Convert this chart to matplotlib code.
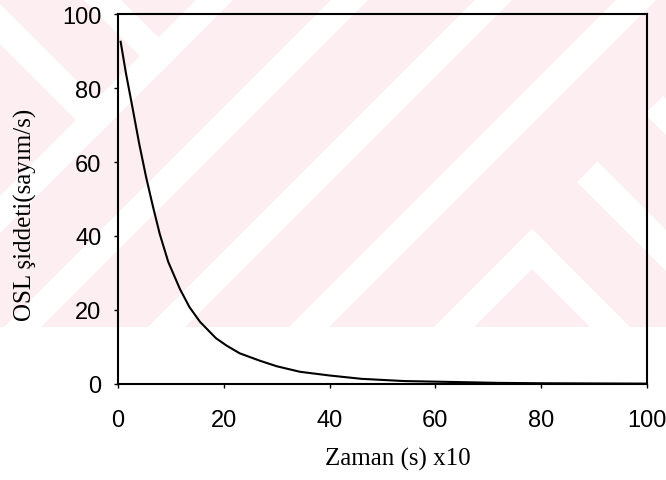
#!/usr/bin/env python3
"""
OSL decay curve: intensity (counts/s) against stimulation time.
Writes out.png.
"""

import matplotlib.pyplot as plt
from matplotlib.patches import Polygon, Rectangle

# time axis is in units of 10 s
ZAMAN = [0.5, 1.5, 2.7, 4.0, 5.3, 6.6, 7.9, 9.5, 11.7, 13.5, 15.5, 18.5,
         20.5, 23.0, 26.8, 30.0, 34.4, 40.0, 46.0, 54.0, 65.0, 72.0, 80.0,
         90.0, 100.0]
OSL = [92.5, 84.0, 75.0, 65.0, 56.0, 48.0, 40.5, 33.0, 25.7, 20.8, 16.8,
       12.4, 10.4, 8.3, 6.3, 4.8, 3.3, 2.3, 1.4, 0.8, 0.5, 0.3, 0.2,
       0.15, 0.1]

X_TICKS = [0, 20, 40, 60, 80, 100]
Y_TICKS = [0, 20, 40, 60, 80, 100]

PINK = "#fdeef1"
W, H = 666, 481
BAND_H = 328


def slash_band(a, b):
    """White '/' stripe where a <= x + y <= b (pixel coords, y down)."""
    return [(a, 0), (b, 0), (b - 800, 800), (a - 800, 800)]


def back_band_to(c, d, e):
    """'\\' stripe c <= x - y <= d, ending on the line x + y = e."""
    return [(c - 200, -200), (d - 200, -200),
            ((e + d) / 2, (e - d) / 2), ((e + c) / 2, (e - c) / 2)]


def back_band_from(c, d, e):
    """'\\' stripe c <= x - y <= d, starting at the line x + y = e."""
    return [((e + c) / 2, (e - c) / 2), ((e + d) / 2, (e - d) / 2),
            (d + 800, 800), (c + 800, 800)]


def slash_part(a, b, lo=None, hi=None):
    """'/' stripe a <= x + y <= b limited to lo <= x - y <= hi."""
    lo = -2000 if lo is None else lo
    hi = 2000 if hi is None else hi
    return [((a + lo) / 2, (a - lo) / 2), ((a + hi) / 2, (a - hi) / 2),
            ((b + hi) / 2, (b - hi) / 2), ((b + lo) / 2, (b - lo) / 2)]


def draw_background(fig):
    bg = fig.add_axes([0, 0, 1, 1], zorder=0)
    bg.set_xlim(0, W)
    bg.set_ylim(H, 0)
    bg.axis("off")

    area = Rectangle((0, 0), W, BAND_H, facecolor=PINK, edgecolor="none")
    bg.add_patch(area)

    shapes = [
        slash_band(197, 234),
        slash_band(332, 369),
        slash_band(476, 513),
        slash_band(617, 657),
        back_band_to(83, 120, 234),
        back_band_to(-45, -5, 234),
        slash_part(762, 802, hi=302),
        back_band_from(262, 302, 762),
        back_band_from(394, 435, 760),
        back_band_from(530, 566, 760),
    ]
    for pts in shapes:
        p = Polygon(pts, closed=True, facecolor="white", edgecolor="none")
        bg.add_patch(p)
        p.set_clip_path(area)


def main():
    fig = plt.figure(figsize=(W / 100, H / 100), dpi=100)
    draw_background(fig)

    ax = fig.add_axes([118 / W, 1 - 385 / H, 529 / W, 370 / H], zorder=1)
    ax.patch.set_alpha(0)

    ax.plot(ZAMAN, OSL, color="black", linewidth=1.5)

    ax.set_xlim(0, 100)
    ax.set_ylim(0, 100)
    ax.set_xticks(X_TICKS)
    ax.set_yticks(Y_TICKS)
    ax.set_xticklabels([str(t) for t in X_TICKS])
    ax.set_yticklabels([str(t) for t in Y_TICKS])
    for spine in ax.spines.values():
        spine.set_linewidth(1.5)
        spine.set_color("black")

    ax.tick_params(axis="both", direction="out", length=3, width=1,
                   labelsize=17, colors="black")
    ax.tick_params(axis="x", pad=15)
    ax.tick_params(axis="y", pad=9)
    for lab in ax.get_xticklabels() + ax.get_yticklabels():
        lab.set_family("Liberation Sans")

    fig.text(398 / W, 1 - 459 / H, "Zaman (s) x10", ha="center",
             va="center", fontsize=18, family="Liberation Serif")
    fig.text(25 / W, 1 - 215 / H, "OSL şiddeti(sayım/s)", ha="center",
             va="center", rotation=90, fontsize=18,
             family="Liberation Serif")

    fig.savefig("out.png", dpi=100)
    plt.close(fig)


if __name__ == "__main__":
    main()
